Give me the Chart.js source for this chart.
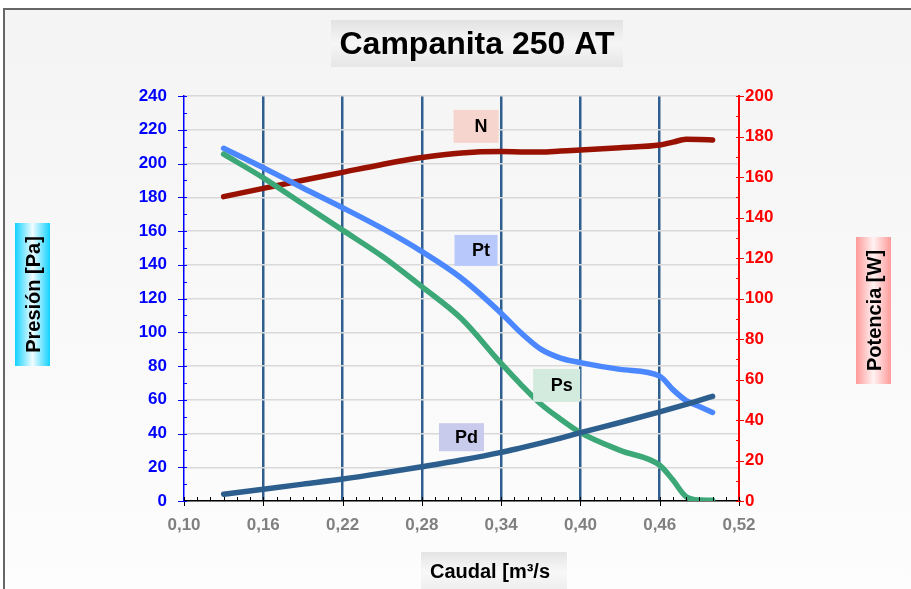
<!DOCTYPE html>
<html>
<head>
<meta charset="utf-8">
<script src="https://cdn.jsdelivr.net/npm/chart.js@4"></script>
<style>
  html, body { margin: 0; padding: 0; background: #fff; }
  #wrap { width: 911px; height: 589px; position: relative; }
</style>
</head>
<body>
<div id="wrap"><canvas id="myChart" width="911" height="589"></canvas></div>
<script>
// caudal [m3/s] and the curves
const caudal = [0.13, 0.16, 0.19, 0.22, 0.25, 0.28, 0.31, 0.34, 0.355, 0.37, 0.385, 0.40, 0.43, 0.46, 0.47, 0.48, 0.49, 0.50];
const presionTotal = [209, 197.5, 185.5, 173.8, 161.5, 147.8, 132, 111.3, 99.7, 90, 84.7, 82, 78, 74, 66, 59.5, 56, 52.5];
const presionEstatica = [205.5, 191.5, 176, 160.5, 145, 127, 108, 81.5, 69, 57.5, 48.5, 40.5, 30, 21.2, 12.4, 2.5, 0.6, 0.5];
const presionDinamica = [4, 7, 10, 13, 16.5, 20.3, 24.3, 28.8, 31.5, 34.3, 37.3, 40.5, 46.5, 52.8, 55, 57.3, 59.6, 62];
const potencia = [150.3, 154.4, 158.4, 162.3, 166.2, 169.6, 171.9, 172.6, 172.4, 172.3, 172.8, 173.3, 174.5, 175.8, 177.2, 178.6, 178.5, 178.3];

const etiquetas = ["N", "Pt", "Ps", "Pd"];
const etiquetaCaudal = [0.321, 0.321, 0.382, 0.310];
const etiquetaPresion = [222, 148.5, 68.5, 37.8];

const xTicks = [0.10, 0.16, 0.22, 0.28, 0.34, 0.40, 0.46, 0.52];

const FONT = "'Liberation Sans', Arial, sans-serif";

function pts(ys) {
  return caudal.map((x, i) => ({ x: x, y: ys[i] }));
}

function gradBox(ctx, x, y, w, h, stops, horizontal) {
  const g = horizontal ? ctx.createLinearGradient(x, 0, x + w, 0) : ctx.createLinearGradient(0, y, 0, y + h);
  stops.forEach(s => g.addColorStop(s[0], s[1]));
  ctx.fillStyle = g;
  ctx.fillRect(x, y, w, h);
}

const decor = {
  id: "decor",
  beforeDraw(chart) {
    const ctx = chart.ctx;
    ctx.save();
    ctx.fillStyle = "#ffffff";
    ctx.fillRect(0, 0, chart.width, chart.height);
    const g = ctx.createLinearGradient(0, 9, 0, 589);
    g.addColorStop(0, "#f4f4f4");
    g.addColorStop(1, "#fdfdfd");
    ctx.fillStyle = g;
    ctx.fillRect(4, 9, chart.width, chart.height);
    ctx.strokeStyle = "#666";
    ctx.lineWidth = 2;
    ctx.beginPath();
    ctx.moveTo(4, chart.height);
    ctx.lineTo(4, 9);
    ctx.lineTo(chart.width, 9);
    ctx.stroke();
    ctx.restore();
  },
  afterDatasetsDraw(chart) {
    const ctx = chart.ctx;
    const xs = chart.scales.x, ys = chart.scales.y, y1 = chart.scales.y1;
    ctx.save();
    // tick marks
    ctx.lineWidth = 1;
    ctx.strokeStyle = "#000";
    for (let v = 10; v <= 52; v++) {
      const px = Math.round(xs.getPixelForValue(v / 100)) + 0.5;
      const major = (v - 10) % 6 === 0;
      ctx.beginPath();
      ctx.moveTo(px, ys.bottom - 4);
      ctx.lineTo(px, ys.bottom + (major ? 5 : 0));
      ctx.stroke();
    }
    ctx.strokeStyle = "#0000ff";
    for (let v = 0; v <= 240; v += 10) {
      const py = Math.round(ys.getPixelForValue(v)) + 0.5;
      const major = v % 20 === 0;
      ctx.beginPath();
      ctx.moveTo(xs.left - (major ? 6 : 0), py);
      ctx.lineTo(xs.left + 3, py);
      ctx.stroke();
    }
    ctx.strokeStyle = "#ff0000";
    for (let v = 0; v <= 200; v += 10) {
      const py = Math.round(y1.getPixelForValue(v)) + 0.5;
      const major = v % 20 === 0;
      ctx.beginPath();
      ctx.moveTo(xs.right - 3, py);
      ctx.lineTo(xs.right + (major ? 5 : 0), py);
      ctx.stroke();
    }
    // series labels
    const fills = ["#f7d5cf", "#b8c8fa", "#d3eadf", "#c8cbec"];
    const sizes = [[45, 33], [43, 31], [47, 33], [45, 28]];
    ctx.font = "bold 18px " + FONT;
    ctx.textBaseline = "middle";
    ctx.textAlign = "center";
    etiquetas.forEach((t, i) => {
      const cx = xs.getPixelForValue(etiquetaCaudal[i]);
      const cy = ys.getPixelForValue(etiquetaPresion[i]);
      const w = sizes[i][0], h = sizes[i][1];
      ctx.fillStyle = fills[i];
      ctx.fillRect(cx - w / 2, cy - h / 2, w, h);
      ctx.fillStyle = "#000";
      ctx.fillText(t, cx + 5, cy + 1);
    });
    ctx.restore();
  },
  afterDraw(chart) {
    const ctx = chart.ctx;
    ctx.save();
    ctx.textBaseline = "middle";
    // title
    gradBox(ctx, 331, 20, 292, 47, [[0, "#e2e2e2"], [0.5, "#f6f6f6"], [1, "#e6e6e6"]], false);
    ctx.fillStyle = "#000";
    ctx.font = "bold 32px " + FONT;
    ctx.textAlign = "center";
    ctx.fillText("Campanita 250 AT", 477, 45);
    // x title
    gradBox(ctx, 421, 552, 146, 40, [[0, "#e4e4e4"], [0.5, "#f8f8f8"], [1, "#ececec"]], false);
    ctx.fillStyle = "#000";
    ctx.font = "bold 20px " + FONT;
    ctx.textAlign = "left";
    ctx.fillText("Caudal [m\u00b3/s", 430, 572);
    // left title
    gradBox(ctx, 15, 223, 35, 143, [[0, "#12d2ff"], [0.5, "#f0fcff"], [1, "#12d2ff"]], true);
    ctx.save();
    ctx.translate(33, 294.5);
    ctx.rotate(-Math.PI / 2);
    ctx.textAlign = "center";
    ctx.fillStyle = "#000";
    ctx.fillText("Presi\u00f3n [Pa]", 0, 1);
    ctx.restore();
    // right title
    gradBox(ctx, 856, 237, 35, 147, [[0, "#ff9a9a"], [0.5, "#fff2f2"], [1, "#ff9a9a"]], true);
    ctx.save();
    ctx.translate(874, 310.5);
    ctx.rotate(-Math.PI / 2);
    ctx.textAlign = "center";
    ctx.fillStyle = "#000";
    ctx.fillText("Potencia [W]", 0, 1);
    ctx.restore();
    ctx.restore();
  }
};

const lineOpts = {
  pointRadius: 0,
  borderWidth: 5.5,
  borderCapStyle: "round",
  borderJoinStyle: "round",
  cubicInterpolationMode: "monotone",
  fill: false
};

new Chart(document.getElementById("myChart"), {
  type: "line",
  data: {
    datasets: [
      Object.assign({ label: "Pd", data: pts(presionDinamica), borderColor: "#2c5f8e", yAxisID: "y" }, lineOpts),
      Object.assign({ label: "Ps", data: pts(presionEstatica), borderColor: "#3ca777", yAxisID: "y" }, lineOpts),
      Object.assign({ label: "Pt", data: pts(presionTotal), borderColor: "#4b87ff", yAxisID: "y" }, lineOpts),
      Object.assign({ label: "N", data: pts(potencia), borderColor: "#991100", yAxisID: "y1" }, lineOpts)
    ]
  },
  options: {
    responsive: false,
    animation: false,
    devicePixelRatio: 1,
    layout: { padding: { top: 96, left: 0, right: 0, bottom: 0 } },
    plugins: { legend: { display: false }, tooltip: { enabled: false }, title: { display: false } },
    scales: {
      x: {
        type: "linear",
        min: 0.10,
        max: 0.52,
        afterFit: s => { s.height = 88; },
        afterBuildTicks: s => { s.ticks = xTicks.map(v => ({ value: v })); },
        ticks: {
          padding: 14,
          color: "#808080",
          font: { family: FONT, weight: "bold", size: 17 },
          callback: v => v.toFixed(2).replace(".", ",")
        },
        grid: {
          drawTicks: false,
          lineWidth: 2.5,
          color: c => (c.tick && c.tick.value > 0.11 && c.tick.value < 0.51) ? "#2e5f8f" : "rgba(0,0,0,0)"
        },
        border: { display: true, color: "#000", width: 1.5 }
      },
      y: {
        position: "left",
        min: 0,
        max: 240,
        afterFit: s => { s.width = 184; },
        ticks: {
          stepSize: 20,
          padding: 17,
          color: "#0000ff",
          font: { family: FONT, weight: "bold", size: 17 }
        },
        grid: { drawTicks: false, color: "#d9d9d9", lineWidth: 1.5 },
        border: { display: true, color: "#0000ff", width: 1.5 }
      },
      y1: {
        position: "right",
        min: 0,
        max: 200,
        afterFit: s => { s.width = 172; },
        ticks: {
          stepSize: 20,
          padding: 6,
          color: "#ff0000",
          font: { family: FONT, weight: "bold", size: 17 }
        },
        grid: { display: false, drawTicks: false },
        border: { display: true, color: "#ff0000", width: 2 }
      }
    }
  },
  plugins: [decor]
});
</script>
</body>
</html>
